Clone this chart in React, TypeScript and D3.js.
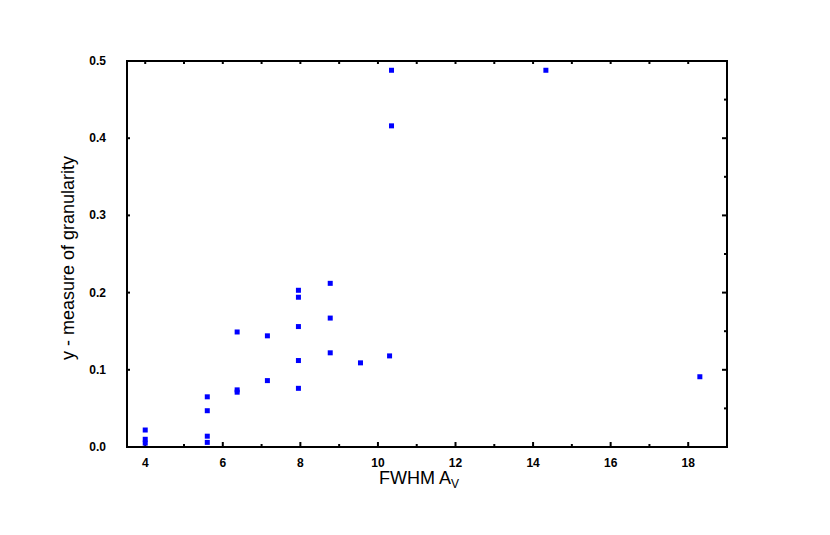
import React from "react";
import * as d3 from "d3";

const fwhm = [4.0, 4.0, 4.0, 5.6, 5.6, 5.6, 5.6, 6.37, 6.37, 6.37, 7.15, 7.15, 7.95, 7.95, 7.95, 7.95, 7.95, 8.77, 8.77, 8.77, 9.55, 10.3, 10.35, 10.35, 14.33, 18.3];
const gran = [0.022, 0.010, 0.005, 0.065, 0.047, 0.014, 0.006, 0.149, 0.074, 0.071, 0.144, 0.086, 0.203, 0.194, 0.156, 0.112, 0.076, 0.212, 0.167, 0.122, 0.109, 0.118, 0.488, 0.416, 0.488, 0.091];
const xMajorTicks = [4, 6, 8, 10, 12, 14, 16, 18];
const xMinorTicks = [5, 7, 9, 11, 13, 15, 17];
const yMajorTicks = [0, 0.1, 0.2, 0.3, 0.4, 0.5];
const yMinorTicks = [0.05, 0.15, 0.25, 0.35, 0.45];
const xLabel = "FWHM A";
const xLabelSub = "V";
const yLabel = "y - measure of granularity";

export default function App() {
  const W = 830, H = 535;
  const L = 127, R = 727, T = 61, B = 447;
  const x = d3.scaleLinear().domain([3.53, 19]).range([L, R]);
  const y = d3.scaleLinear().domain([0, 0.5]).range([B, T]);
  const font = "'Liberation Sans', Arial, sans-serif";
  const ms = 5;
  return (
    <svg width={W} height={H} style={{ position: "absolute", left: 0, top: 0 }}>
      <rect x={0} y={0} width={W} height={H} fill="#fff" />
      <rect x={L} y={T} width={R - L} height={B - T} fill="none" stroke="#000" strokeWidth={2} />
      {xMajorTicks.map((t) => (
        <g key={"xm" + t}>
          <line x1={x(t)} x2={x(t)} y1={B} y2={B - 5} stroke="#000" strokeWidth={2} />
          <line x1={x(t)} x2={x(t)} y1={T} y2={T + 3} stroke="#000" strokeWidth={2} />
          <text x={x(t)} y={467} textAnchor="middle" fontFamily={font} fontWeight="bold" fontSize={12}>{t}</text>
        </g>
      ))}
      {xMinorTicks.map((t) => (
        <g key={"xn" + t}>
          <line x1={x(t)} x2={x(t)} y1={B} y2={B - 3} stroke="#000" strokeWidth={2} />
          <line x1={x(t)} x2={x(t)} y1={T} y2={T + 3} stroke="#000" strokeWidth={2} />
        </g>
      ))}
      {yMajorTicks.map((t) => (
        <g key={"ym" + t}>
          <line x1={L} x2={L + 3} y1={y(t)} y2={y(t)} stroke="#000" strokeWidth={2} />
          <line x1={R} x2={R - 5} y1={y(t)} y2={y(t)} stroke="#000" strokeWidth={2} />
          <text x={106} y={y(t) + 4} textAnchor="end" fontFamily={font} fontWeight="bold" fontSize={12}>{t.toFixed(1)}</text>
        </g>
      ))}
      {yMinorTicks.map((t) => (
        <line key={"yn" + t} x1={R} x2={R - 3} y1={y(t)} y2={y(t)} stroke="#000" strokeWidth={2} />
      ))}
      {fwhm.map((v, i) => (
        <rect key={i} x={x(v) - ms / 2} y={y(gran[i]) - ms / 2} width={ms} height={ms} fill="#0000ff" />
      ))}
      <text x={379} y={484} fontFamily={font} fontSize={18}>
        {xLabel}
        <tspan fontSize={12} dy={4}>{xLabelSub}</tspan>
      </text>
      <text transform={`translate(74, 258) rotate(-90)`} textAnchor="middle" fontFamily={font} fontSize={18}>{yLabel}</text>
    </svg>
  );
}
